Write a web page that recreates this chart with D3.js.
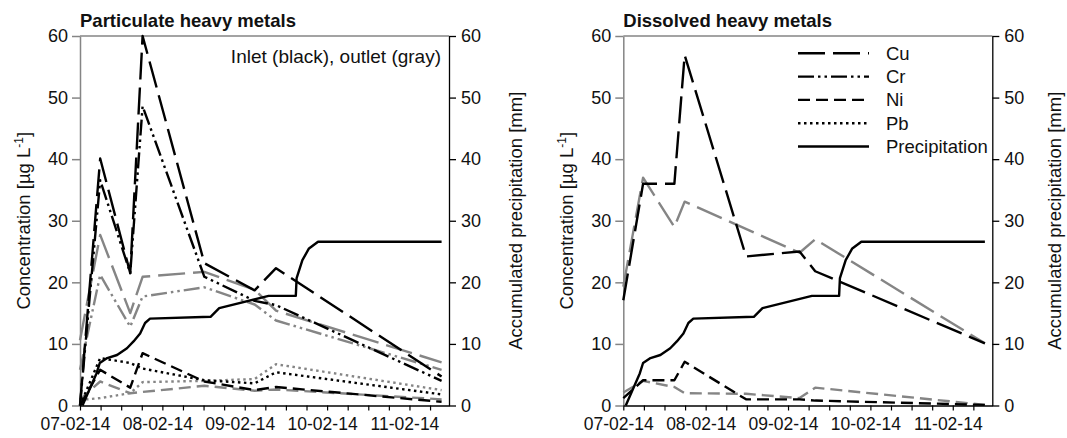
<!DOCTYPE html>
<html><head><meta charset="utf-8">
<script src="https://cdn.jsdelivr.net/npm/d3@7"></script>
<style>
body{margin:0;background:#fff}
text{font-family:"Liberation Sans",Arial,Helvetica,sans-serif;fill:#111}
</style>
</head><body>
<svg id="chart" width="1067" height="438"></svg>
<script>
// ---------- data (days since 07-02-14 00:00) ----------
const tickLabels = ["07-02-14","08-02-14","09-02-14","10-02-14","11-02-14"];
const yTicks = [0,10,20,30,40,50,60];
const legendNames = ["Cu","Cr","Ni","Pb","Precipitation"];

const precipDays   = [0.03,0.20,0.24,0.33,0.45,0.57,0.65,0.73,0.79,0.85,1.585,1.69,2.29,2.62,2.63,2.70,2.78,2.89,4.39];
const precipValues = [0,5.2,6.9,7.7,8.2,9.3,10.4,11.7,13.4,14.1,14.4,15.8,17.8,17.8,20.7,23.6,25.5,26.6,26.6];

// particulate heavy metals
const partDays  = [0,0.245,0.61,0.76,1.51,2.12,2.38,4.39];
const partCuIn  = [0,40.1,21.5,60.0,23.1,18.7,22.3,4.7];
const partCuOut = [10.6,27.7,15.0,20.9,21.7,18.8,15.4,7.0];
const partCrIn  = [0,36.6,21.5,48.6,20.9,17.0,16.3,4.0];
const partCrOut = [5.8,21.2,12.8,17.7,19.2,16.4,13.8,5.8];
const partNiIn  = [0,5.8,2.9,8.5,3.9,2.5,3.0,0.6];
const partNiOut = [1.0,3.9,2.0,2.2,3.2,2.4,2.6,1.0];
const partPbIn  = [0,7.7,6.9,6.0,4.1,3.6,5.4,1.8];
const partPbOut = [0.9,1.2,2.0,3.8,4.0,4.3,6.7,2.5];

// dissolved heavy metals
const dissDays  = [0,0.24,0.62,0.745,1.49,2.14,2.33,4.39];
const dissCuIn  = [17.1,36.0,36.0,56.9,24.2,25.0,21.8,10.1];
const dissCuOut = [19.3,37.0,29.0,33.1,null,24.8,27.0,10.1];
const dissNiIn  = [1.2,4.1,4.1,7.1,1.0,1.0,0.8,0.1];
const dissNiOut = [2.1,4.0,3.0,2.0,1.9,1.2,2.9,0.1];

// ---------- styles ----------
const BLACK = "#000", GRAY = "#858585";
const dashes = {Cu:"27,8", Cr:"16,4,2.5,4,2.5,4", Ni:"12,6", Pb:"2.5,3.5", Precipitation:null};
const LW = 2.4;
const FS_TICK = "18px", FS_LAB = "18.5px";

const svg = d3.select("#chart");
const dayMax = 4.48;

function zip(days, vals){ return days.map((d,i)=>[d,vals[i]]).filter(p=>p[1]!=null); }

function panel(opt){
  const x = d3.scaleLinear().domain([0,dayMax]).range([opt.x0, opt.x1]);
  const y = d3.scaleLinear().domain([0,60]).range([405.5, 36]);
  const yR = d3.scaleLinear().domain([0,60]).range([405.5, 36]);
  const g = svg.append("g");

  g.append("line").attr("x1",opt.x0).attr("x2",opt.x1).attr("y1",36).attr("y2",36)
    .attr("stroke",GRAY).attr("stroke-width",1.5);

  const ax = g.append("g").attr("transform",`translate(${opt.x0},0)`)
    .call(d3.axisLeft(y).tickValues(yTicks).tickSize(8).tickSizeOuter(0).tickPadding(4));
  ax.select(".domain").attr("stroke",GRAY).attr("stroke-width",1.5);
  ax.selectAll(".tick line").attr("stroke",GRAY).attr("stroke-width",1.5);
  ax.selectAll(".tick text").style("font-size",FS_TICK).attr("fill","#111");

  const axR = g.append("g").attr("transform",`translate(${opt.x1},0)`)
    .call(d3.axisRight(yR).tickValues(yTicks).tickSize(7).tickSizeOuter(0).tickPadding(5));
  axR.select(".domain").attr("stroke","#000").attr("stroke-width",1.3);
  axR.selectAll(".tick line").attr("stroke","#000").attr("stroke-width",1.3);
  axR.selectAll(".tick text").style("font-size",FS_TICK).attr("fill","#111");

  const minor = d3.range(0, dayMax, 0.25);
  const axB = g.append("g").attr("transform",`translate(0,405.5)`)
    .call(d3.axisBottom(x).tickValues(minor).tickSize(5).tickSizeOuter(0).tickPadding(7)
      .tickFormat(d => Number.isInteger(d) && tickLabels[d] ? tickLabels[d] : ""));
  axB.select(".domain").attr("stroke","#000").attr("stroke-width",1.3);
  axB.selectAll(".tick line").attr("stroke","#000").attr("stroke-width",1.2);
  axB.selectAll(".tick text").style("font-size","17.5px").attr("fill","#111").attr("dx",-5);

  const line = d3.line().x(d=>x(d[0])).y(d=>y(d[1]));
  const lineR = d3.line().x(d=>x(d[0])).y(d=>yR(d[1]));
  opt.series.forEach(s=>{
    g.append("path").datum(zip(s.days,s.values)).attr("d",line)
      .attr("fill","none").attr("stroke",s.color).attr("stroke-width",LW)
      .attr("stroke-dasharray",dashes[s.metal]).attr("stroke-linejoin","round");
  });
  g.append("path").datum(zip(precipDays,precipValues)).attr("d",lineR)
    .attr("fill","none").attr("stroke","#000").attr("stroke-width",LW).attr("stroke-linejoin","round");

  g.append("text").attr("x",opt.x0).attr("y",27).text(opt.title)
    .style("font-size","18.5px").style("font-weight","bold");

  const yl = g.append("text").attr("transform",`translate(${opt.x0-50},${(36+405.5)/2}) rotate(-90)`)
    .attr("text-anchor","middle").style("font-size",FS_LAB);
  yl.append("tspan").text("Concentration [µg L");
  yl.append("tspan").text("-1").style("font-size","12px").attr("dy",-7);
  yl.append("tspan").text("]").attr("dy",7);
  g.append("text").attr("transform",`translate(${opt.rx},${(36+405.5)/2}) rotate(-90)`)
    .attr("text-anchor","middle").style("font-size",FS_LAB).text("Accumulated precipitation [mm]");
  return {g,x,y};
}

const left = panel({x0:80, x1:449, rx:522, title:"Particulate heavy metals", series:[
  {metal:"Cu", color:GRAY,  days:partDays, values:partCuOut},
  {metal:"Cr", color:GRAY,  days:partDays, values:partCrOut},
  {metal:"Ni", color:GRAY,  days:partDays, values:partNiOut},
  {metal:"Pb", color:GRAY,  days:partDays, values:partPbOut},
  {metal:"Cu", color:BLACK, days:partDays, values:partCuIn},
  {metal:"Cr", color:BLACK, days:partDays, values:partCrIn},
  {metal:"Ni", color:BLACK, days:partDays, values:partNiIn},
  {metal:"Pb", color:BLACK, days:partDays, values:partPbIn},
]});
left.g.append("text").attr("x",441).attr("y",63).attr("text-anchor","end")
  .style("font-size","19px").text("Inlet (black), outlet (gray)");

const right = panel({x0:623.3, x1:992.3, rx:1061, title:"Dissolved heavy metals", series:[
  {metal:"Cu", color:GRAY,  days:dissDays, values:dissCuOut},
  {metal:"Ni", color:GRAY,  days:dissDays, values:dissNiOut},
  {metal:"Cu", color:BLACK, days:dissDays, values:dissCuIn},
  {metal:"Ni", color:BLACK, days:dissDays, values:dissNiIn},
]});

const lg = right.g.append("g");
legendNames.forEach((n,i)=>{
  const yy = 53.3 + i*23.3;
  lg.append("line").attr("x1",798).attr("x2",869).attr("y1",yy).attr("y2",yy)
    .attr("stroke","#000").attr("stroke-width",LW).attr("stroke-dasharray",dashes[n]);
  lg.append("text").attr("x",886).attr("y",yy+6.5).style("font-size",FS_LAB).text(n);
});
</script>
</body></html>
